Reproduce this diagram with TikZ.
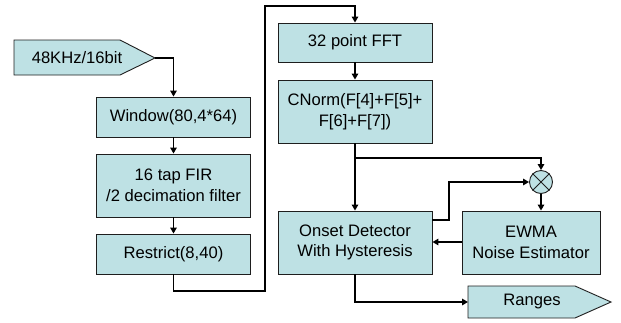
\documentclass[tikz,border=0pt]{standalone}
\usepackage{fontspec}
\setmainfont{Liberation Sans}
\usetikzlibrary{arrows.meta}
\definecolor{boxfill}{RGB}{190,225,228}
\definecolor{edge}{RGB}{30,30,30}
\begin{document}
\begin{tikzpicture}[x=1pt,y=-1pt,
  font=\fontsize{16.6}{20.5}\selectfont,
  blk/.style={draw=edge,line width=0.9pt,fill=boxfill,minimum width=154pt,align=center,inner sep=0pt},
  conn/.style={draw=black,line width=1.9pt,-{Triangle[length=6pt,width=6.5pt]}},
  plain/.style={draw=black,line width=1.9pt}]
\useasboundingbox (0,0) rectangle (621,322);
% input signal
\draw[draw=edge,line width=0.9pt,fill=boxfill] (14,40) -- (120,40) -- (155,58) -- (120,75) -- (14,75) -- cycle;
\node (intext) at (77,58) {48KHz/16bit};
\coordinate (intip) at (155,58);
% left column
\node[blk,minimum height=40pt] (win) at (173.5,117) {Window(80,4*64)};
\node[blk,minimum height=63pt] (fir) at (173.5,185.5) {16 tap FIR\\/2 decimation filter};
\node[blk,minimum height=40pt] (res) at (173.5,254) {Restrict(8,40)};
% right column
\node[blk,minimum height=39pt] (fft) at (355,42.5) {32 point FFT};
\node[blk,minimum height=63pt] (cn) at (355,111.5) {CNorm(F[4]+F[5]+\\F[6]+F[7])};
\node[blk,minimum height=63pt] (on) at (355,242.5) {Onset Detector\\With Hysteresis};
\node[blk,minimum width=138pt,minimum height=63pt] (ew) at (531,242.5) {EWMA\\Noise Estimator};
\node[draw=edge,line width=0.9pt,fill=boxfill,circle,minimum size=23pt,inner sep=0pt] (mul) at (541,182) {};
\draw[draw=edge,line width=0.9pt] (mul.45) -- (mul.225) (mul.135) -- (mul.315);
% output signal
\draw[draw=edge,line width=0.9pt,fill=boxfill] (468,286) -- (575,286) -- (611,302) -- (575,318) -- (468,318) -- cycle;
\node (outtext) at (532,302) {Ranges};
\coordinate (outleft) at (468,302);
% connectors
\draw[conn] (intip) -- (173.5,58) -- (win.north);
\draw[conn] (win.south) -- (fir.north);
\draw[conn] (fir.south) -- (res.north);
\draw[conn] (res.south) -- (173.5,291) -- (265,291) -- (265,6) -- (355,6) -- (fft.north);
\draw[conn] (fft.south) -- (cn.north);
\draw[conn] (cn.south) -- (on.north);
\draw[conn] (355,158) -- (541,158) -- (mul.north);
\draw[conn] (mul.south) -- (mul.south |- ew.north);
\draw[conn] (ew.west |- 0,242) -- (on.east |- 0,242);
\draw[conn] (on.east |- 0,220) -- (449,220) -- (449,182) -- (mul.west);
\draw[conn] (on.south) -- (355,302) -- (outleft);
\end{tikzpicture}
\end{document}
